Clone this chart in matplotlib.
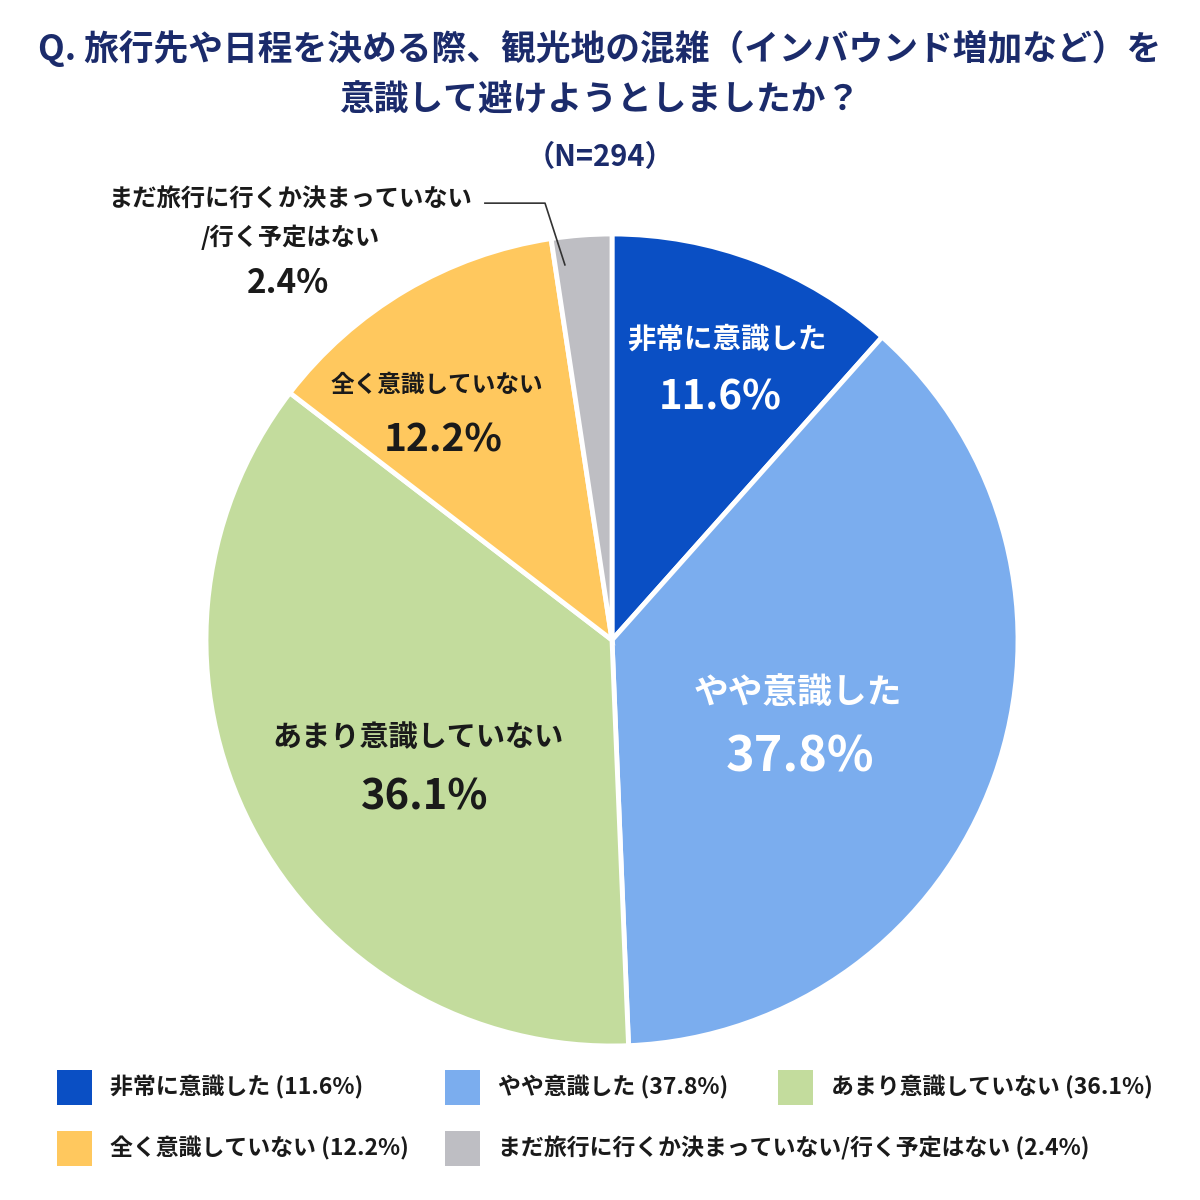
import matplotlib
matplotlib.use("Agg")
import matplotlib.pyplot as plt
from matplotlib.patches import Rectangle

plt.rcParams['font.family'] = ['Noto Sans CJK JP', 'DejaVu Sans']

categories = ["非常に意識した", "やや意識した", "あまり意識していない", "全く意識していない",
              "まだ旅行に行くか決まっていない/行く予定はない"]
values = [11.6, 37.8, 36.1, 12.2, 2.4]
colors = ["#0A4FC4", "#7BADEE", "#C3DC9D", "#FFC85E", "#BEBEC3"]
title_lines = ["Q. 旅行先や日程を決める際、観光地の混雑（インバウンド増加など）を",
               "意識して避けようとしましたか？"]
n_label = "（N=294）"

W, H = 1200, 1200
fig = plt.figure(figsize=(12, 12), dpi=100)
fig.patch.set_facecolor("white")

cx, cy, R = 612, 640, 406
ax = fig.add_axes([(cx - R) / W, (H - cy - R) / H, 2 * R / W, 2 * R / H])
wedges, _ = ax.pie(values, colors=colors, startangle=90, counterclock=False,
                   radius=1.0, wedgeprops=dict(edgecolor="white", linewidth=3.5))
ax.set_xlim(-1, 1)
ax.set_ylim(-1, 1)
ax.set_aspect("equal")
ax.axis("off")

navy = "#1B2B6B"
fig.text(0.5, 1 - 48 / H, title_lines[0], ha="center", va="center", fontsize=25,
         fontweight="bold", color=navy)
fig.text(0.5, 1 - 100 / H, title_lines[1], ha="center", va="center", fontsize=25,
         fontweight="bold", color=navy)
fig.text(0.5, 1 - 157 / H, n_label, ha="center", va="center", fontsize=21,
         fontweight="bold", color=navy)

def pct(v):
    return f"{v}%"

# label positions in data coords (pie radius = 1)
lab_pos = [(0.283, 0.739), (0.458, -0.130), (-0.478, -0.239), (-0.431, 0.628)]
val_pos = [(0.266, 0.596), (0.463, -0.288), (-0.461, -0.387), (-0.416, 0.493)]
lab_fs = [20.5, 25, 21, 17]
val_fs = [29, 35, 30, 28]
txt_col = ["white", "white", "#1A1A1A", "#1A1A1A"]
for i in range(4):
    ax.text(*lab_pos[i], categories[i], ha="center", va="center", fontsize=lab_fs[i],
            fontweight="bold", color=txt_col[i])
    ax.text(*val_pos[i], pct(values[i]), ha="center", va="center", fontsize=val_fs[i],
            fontweight="bold", color=txt_col[i])

# outside label for small slice
ax.text(-0.793, 1.084, "まだ旅行に行くか決まっていない", ha="center", va="center",
        fontsize=17.5, fontweight="bold", color="#1A1A1A", clip_on=False)
ax.text(-0.793, 0.993, "/行く予定はない", ha="center", va="center",
        fontsize=17.5, fontweight="bold", color="#1A1A1A", clip_on=False)
ax.text(-0.798, 0.877, pct(values[4]), ha="center", va="center",
        fontsize=24, fontweight="bold", color="#1A1A1A", clip_on=False)
ax.plot([-0.313, -0.165, -0.116], [1.076, 1.076, 0.924], color="#333333", lw=1.2,
        clip_on=False)

# legend drawn manually
leg_pos = [(57, 1087), (445, 1087), (778, 1087), (57, 1148), (445, 1148)]
sq = 35
for (lx, ly), c, cat, v in zip(leg_pos, colors, categories, values):
    fig.patches.append(Rectangle((lx / W, (H - ly - sq / 2) / H), sq / W, sq / H,
                                 transform=fig.transFigure, facecolor=c, edgecolor="none"))
    fig.text((lx + 53) / W, (H - ly) / H, f"{cat} ({v}%)", ha="left", va="center",
             fontsize=16.5, fontweight="bold", color="#1A1A1A")

fig.savefig("out.png", dpi=100, facecolor="white")
